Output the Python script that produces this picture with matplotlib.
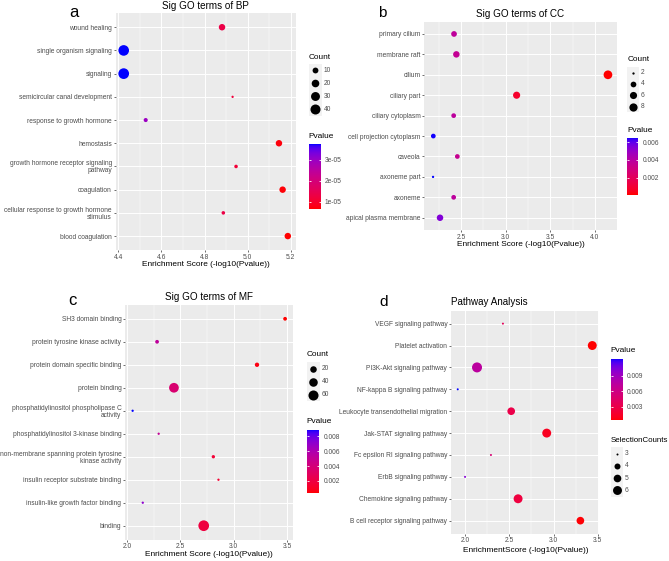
from __future__ import annotations

import matplotlib

matplotlib.use("Agg")
import matplotlib.pyplot as plt
import numpy as np
from matplotlib.cm import ScalarMappable
from matplotlib.colors import ListedColormap, Normalize
from matplotlib.patches import Rectangle
from matplotlib.ticker import FormatStrFormatter, FuncFormatter, MultipleLocator
from matplotlib.transforms import Bbox, TransformedBbox

# ---- data (rows listed top to bottom) ----
bp_terms = [
    "wound healing",
    "single organism signaling",
    "signaling",
    "semicircular canal development",
    "response to growth hormone",
    "hemostasis",
    "growth hormone receptor signaling\npathway",
    "coagulation",
    "cellular response to growth hormone\nstimulus",
    "blood coagulation",
]
bp_score = [4.881, 4.425, 4.425, 4.930, 4.527, 5.145, 4.946, 5.162, 4.887, 5.186]
bp_count = [13, 46, 47, 2, 4, 13, 3, 13, 3, 13]

cc_terms = [
    "primary cilium",
    "membrane raft",
    "cilium",
    "ciliary part",
    "ciliary cytoplasm",
    "cell projection cytoplasm",
    "caveola",
    "axoneme part",
    "axoneme",
    "apical plasma membrane",
]
cc_score = [2.422, 2.448, 4.146, 3.123, 2.418, 2.190, 2.459, 2.187, 2.418, 2.265]
cc_count = [4, 5, 9, 6, 3, 3, 3, 2, 3, 5]

mf_terms = [
    "SH3 domain binding",
    "protein tyrosine kinase activity",
    "protein domain specific binding",
    "protein binding",
    "phosphatidylinositol phospholipase C\nactivity",
    "phosphatidylinositol 3-kinase binding",
    "non-membrane spanning protein tyrosine\nkinase activity",
    "insulin receptor substrate binding",
    "insulin-like growth factor binding",
    "binding",
]
mf_score = [3.481, 2.282, 3.218, 2.440, 2.053, 2.297, 2.809, 2.857, 2.148, 2.719]
mf_count = [5, 5, 7, 55, 3, 3, 4, 3, 3, 70]

kegg_terms = [
    "VEGF signaling pathway",
    "Platelet activation",
    "PI3K-Akt signaling pathway",
    "NF-kappa B signaling pathway",
    "Leukocyte transendothelial migration",
    "Jak-STAT signaling pathway",
    "Fc epsilon RI signaling pathway",
    "ErbB signaling pathway",
    "Chemokine signaling pathway",
    "B cell receptor signaling pathway",
]
kegg_score = [2.426, 3.440, 2.132, 1.913, 2.520, 2.923, 2.290, 1.996, 2.598, 3.305]
kegg_count = [3, 6, 7, 3, 5, 6, 3, 3, 6, 5]

bp_size_breaks = [10, 20, 30, 40]
cc_size_breaks = [2, 4, 6, 8]
mf_size_breaks = [20, 40, 60]
kegg_size_breaks = [3, 4, 5, 6]

bp_p_breaks = [1e-5, 2e-5, 3e-5]
cc_p_breaks = [0.002, 0.004, 0.006]
mf_p_breaks = [0.002, 0.004, 0.006, 0.008]
kegg_p_breaks = [0.003, 0.006, 0.009]

W, H, DPI = 669, 561, 100
PT = 72 / DPI  # points per pixel
TICK_GRAY = "#4D4D4D"
plt.rcParams["font.family"] = ["Liberation Sans", "DejaVu Sans"]


def srgb_to_lab(rgb):
    rgb = np.asarray(rgb, float).reshape(3, -1)
    lin = np.where(rgb <= 0.04045, rgb / 12.92, ((rgb + 0.055) / 1.055) ** 2.4)
    m = np.array([[0.4124, 0.3576, 0.1805], [0.2126, 0.7152, 0.0722], [0.0193, 0.1192, 0.9505]])
    xyz = (m @ lin) / np.array([[0.95047], [1.0], [1.08883]])
    f = np.where(xyz > 0.008856, np.cbrt(xyz), 7.787 * xyz + 16 / 116)
    return np.vstack([116 * f[1] - 16, 500 * (f[0] - f[1]), 200 * (f[1] - f[2])])


def lab_to_srgb(lab):
    fy = (lab[0] + 16) / 116
    f = np.vstack([fy + lab[1] / 500, fy, fy - lab[2] / 200])
    xyz = np.where(f**3 > 0.008856, f**3, (f - 16 / 116) / 7.787)
    xyz = xyz * np.array([[0.95047], [1.0], [1.08883]])
    m = np.array([[0.4124, 0.3576, 0.1805], [0.2126, 0.7152, 0.0722], [0.0193, 0.1192, 0.9505]])
    lin = np.clip(np.linalg.inv(m) @ xyz, 0, 1)
    rgb = np.where(lin <= 0.0031308, 12.92 * lin, 1.055 * lin ** (1 / 2.4) - 0.055)
    return np.clip(rgb, 0, 1).T


# ggplot-like gradient red -> blue interpolated in Lab space
t = np.linspace(0, 1, 256)
lab_lo = srgb_to_lab([1, 0, 0])
lab_hi = srgb_to_lab([0, 0, 1])
CMAP = ListedColormap(lab_to_srgb(lab_lo + (lab_hi - lab_lo) * t))


def px_rect(l, t, r, b):
    return [l / W, 1 - b / H, (r - l) / W, (b - t) / H]


def ftext(fig, x, y, s, **kw):
    return fig.text(x / W, 1 - y / H, s, **kw)


def diam(counts, cmin, cmax, dmin, dmax):
    c = np.asarray(counts, float)
    return dmin + (dmax - dmin) * np.sqrt(np.clip((c - cmin) / (cmax - cmin), 0, None))


def panel(fig, lay, terms, scores, counts, spec):
    scores = np.asarray(scores)
    pvals = 10.0 ** (-scores)
    norm = Normalize(pvals.min(), pvals.max())
    cmin, cmax = min(counts), max(counts)
    dmin, dmax = spec["dsize"]
    sizes = (diam(counts, cmin, cmax, dmin, dmax) * PT) ** 2

    ax = fig.add_axes(px_rect(*spec["rect"]))
    ax.set_facecolor("#EBEBEB")
    y = np.arange(len(terms))
    ax.scatter(scores, y, s=sizes, c=pvals, cmap=CMAP, norm=norm, linewidths=0, zorder=3)
    span = scores.max() - scores.min()
    ax.set_xlim(scores.min() - 0.05 * span, scores.max() + 0.05 * span)
    ax.set_ylim(len(terms) - 0.4, -0.6)
    ax.set_yticks(y)
    ax.set_yticklabels(terms, linespacing=1.0)
    ax.xaxis.set_major_locator(MultipleLocator(spec["step"]))
    ax.xaxis.set_minor_locator(MultipleLocator(spec["step"] / 2))
    ax.xaxis.set_major_formatter(FormatStrFormatter("%.1f"))
    ax.grid(which="major", color="white", lw=0.7)
    ax.grid(which="minor", axis="x", color="white", lw=0.35)
    ax.set_axisbelow(True)
    for s in ax.spines.values():
        s.set_visible(False)
    ax.tick_params(length=2 * PT, width=0.5, color="#333333", labelsize=4.75,
                   labelcolor=TICK_GRAY, pad=1.2)
    ax.tick_params(which="minor", length=0)

    # titles and panel letter
    if spec["title_left"]:
        ftext(fig, spec["rect"][0], spec["title_y"], spec["title"], fontsize=7.1, va="baseline")
    else:
        cx = (spec["rect"][0] + spec["rect"][2]) / 2
        ftext(fig, cx, spec["title_y"], spec["title"], fontsize=7.1, ha="center", va="baseline")
    ftext(fig, spec["letter_xy"][0], spec["letter_xy"][1], spec["letter"],
          fontsize=spec["letter_size"], va="baseline")
    ftext(fig, spec["xlabel_xy"][0], spec["xlabel_xy"][1], spec["xlabel"],
          fontsize=5.95, ha="center", va="center")

    # colour bar legend
    px, py = spec["p_title"]
    ftext(fig, px, py, "Pvalue", fontsize=5.95, va="center")
    cax = fig.add_axes(px_rect(*spec["bar"]))
    cb = fig.colorbar(ScalarMappable(norm=norm, cmap=CMAP), cax=cax)
    cb.outline.set_visible(False)
    cb.set_ticks(spec["p_breaks"])
    cax.yaxis.set_major_formatter(FuncFormatter(spec["p_fmt"]))
    cax.yaxis.set_ticks_position("both")
    cax.tick_params(direction="in", length=2 * PT, width=0.6, color="white",
                    labelsize=4.75, labelcolor=TICK_GRAY, pad=3, labelleft=False, labelright=True)

    # size legend
    sx, sy = spec["s_title"]
    ftext(fig, sx, sy, spec["s_name"], fontsize=spec.get("s_size", 5.95), va="center")
    kx, ky0, kstep = spec["keys"]
    breaks = spec["s_breaks"]
    kd = diam(breaks, cmin, cmax, dmin, dmax)
    for i, b in enumerate(breaks):
        ky = ky0 + i * kstep
        lay.add_patch(Rectangle((sx, ky - kstep / 2), kstep, kstep, facecolor="#F2F2F2",
                                edgecolor="none"))
        lay.scatter([sx + kstep / 2], [ky], s=(kd[i] * PT) ** 2, color="black", linewidths=0)
        lay.text(sx + kstep + 2, ky, str(b), fontsize=4.75, color=TICK_GRAY, va="center")
    return ax


def main() -> None:
    fig = plt.figure(figsize=(W / DPI, H / DPI), dpi=DPI)
    lay = fig.add_axes([0, 0, 1, 1], zorder=5)
    lay.set_xlim(0, W)
    lay.set_ylim(H, 0)
    lay.axis("off")

    sci = lambda v, _: f"{v:.0e}"
    dec = lambda v, _: f"{v:.3f}"
    score_label = "Enrichment Score (-log10(Pvalue))"

    panel(fig, lay, bp_terms, bp_score, bp_count, dict(
        rect=(115.5, 13.3, 296, 250), dsize=(2.3, 10.7), step=0.2,
        title="Sig GO terms of BP", title_y=8.6, title_left=False,
        letter="a", letter_xy=(69, 17.3), letter_size=12,
        xlabel=score_label, xlabel_xy=(205.7, 265),
        p_title=(308.5, 136.5), bar=(308.5, 144, 320.7, 208.8), p_breaks=bp_p_breaks, p_fmt=sci,
        s_name="Count", s_title=(308.5, 57.5), keys=(314.5, 70.3, 13), s_breaks=bp_size_breaks,
    ))
    panel(fig, lay, cc_terms, cc_score, cc_count, dict(
        rect=(424.3, 21.7, 616.7, 230), dsize=(2.3, 8.7), step=0.5,
        title="Sig GO terms of CC", title_y=16.8, title_left=False,
        letter="b", letter_xy=(378.3, 17.3), letter_size=11,
        xlabel=score_label, xlabel_xy=(520.5, 244.3),
        p_title=(627.3, 130.5), bar=(627.3, 137.8, 638.3, 194.7), p_breaks=cc_p_breaks, p_fmt=dec,
        s_name="Count", s_title=(627.3, 59.5), keys=(633.3, 72.5, 11.4), s_breaks=cc_size_breaks,
    ))
    panel(fig, lay, mf_terms, mf_score, mf_count, dict(
        rect=(125, 305, 292.7, 539.5), dsize=(2.3, 10.7), step=0.5,
        title="Sig GO terms of MF", title_y=300.2, title_left=False,
        letter="c", letter_xy=(68.5, 305.3), letter_size=12,
        xlabel=score_label, xlabel_xy=(208.8, 555),
        p_title=(306.7, 421.7), bar=(306.7, 430, 319.3, 493.3), p_breaks=mf_p_breaks, p_fmt=dec,
        s_name="Count", s_title=(306.7, 354.7), keys=(313.3, 368.7, 13), s_breaks=mf_size_breaks,
    ))
    axd = panel(fig, lay, kegg_terms, kegg_score, kegg_count, dict(
        rect=(451, 310.5, 599, 533.8), dsize=(2.0, 10.0), step=0.5,
        title="Pathway Analysis", title_y=305.2, title_left=True,
        letter="d", letter_xy=(379.3, 306), letter_size=11,
        xlabel="EnrichmentScore (-log10(Pvalue))", xlabel_xy=(525.7, 550.3),
        p_title=(610.5, 350.5), bar=(610.5, 359, 623, 420.5), p_breaks=kegg_p_breaks, p_fmt=dec,
        s_name="SelectionCounts", s_size=5.7, s_title=(610.5, 440.2), keys=(616.5, 453.5, 12.3),
        s_breaks=kegg_size_breaks,
    ))

    # panel d was cut at its own left edge in the composite
    clip = TransformedBbox(Bbox([[335 / W, 0], [1, 1]]), fig.transFigure)
    for lbl in axd.get_yticklabels():
        lbl.set_clip_on(True)
        lbl.set_clip_box(clip)

    fig.savefig("out.png", dpi=DPI)
    plt.close(fig)


if __name__ == "__main__":
    main()
